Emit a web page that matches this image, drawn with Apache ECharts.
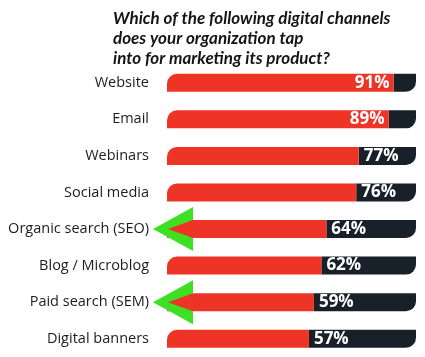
<!DOCTYPE html>
<html>
<head>
<meta charset="utf-8">
<script src="https://cdn.jsdelivr.net/npm/echarts@6/dist/echarts.min.js"></script>
<style>html,body{margin:0;padding:0;background:#fff;}#c{width:425px;height:357px;}</style>
</head>
<body>
<div id="c"></div>
<script>
var categories = ['Website','Email','Webinars','Social media','Organic search (SEO)','Blog / Microblog','Paid search (SEM)','Digital banners'];
var values = [91, 89, 77, 76, 64, 62, 59, 57];
var highlighted = ['Organic search (SEO)', 'Paid search (SEM)'];
var titleLines = ['Which of the following digital channels', 'does your organization tap', 'into for marketing its product?'];

var RED = '#ee3327', DARK = '#18212a', GREEN = '#3ee024';
var chart = echarts.init(document.getElementById('c'), null, {renderer: 'canvas'});

var redData = values.map(function (v) {
  var inside = v >= 85;
  return {
    value: v,
    label: {
      position: inside ? 'insideRight' : 'right',
      distance: inside ? 4 : 5
    }
  };
});
var darkData = values.map(function (v) { return 100 - v; });

var chevron = 'path://M0,22 L40,0 L40,13 L15,22 L40,31 L40,44 Z';

chart.setOption({
  animation: false,
  title: {
    text: titleLines.join('\n'),
    left: 108,
    top: 4,
    textStyle: {
      fontFamily: 'Lato',
      fontStyle: 'italic',
      fontWeight: 'bold',
      fontSize: 17,
      lineHeight: 20,
      color: '#151515'
    }
  },
  grid: {left: 167, right: 9, top: 64.5, height: 296, containLabel: false},
  xAxis: {type: 'value', min: 0, max: 100, show: false},
  yAxis: {
    type: 'category',
    data: categories,
    inverse: true,
    axisLine: {show: false},
    axisTick: {show: false},
    axisLabel: {
      margin: 18,
      fontFamily: 'Open Sans',
      fontSize: 14.5,
      color: '#1c1c1c'
    }
  },
  series: [
    {
      type: 'bar',
      stack: 'total',
      barWidth: 18,
      data: redData,
      itemStyle: {color: RED, borderRadius: [10, 0, 0, 0]},
      label: {
        show: true,
        formatter: '{c}%',
        color: '#fff',
        fontFamily: 'Open Sans',
        fontWeight: 'bold',
        fontSize: 17
      },
      markPoint: {
        symbol: chevron,
        symbolSize: [40, 44],
        symbolOffset: [6, 0],
        itemStyle: {color: GREEN},
        label: {show: false},
        data: highlighted.map(function (c) { return {coord: [0, c]}; })
      },
      z: 2
    },
    {
      type: 'bar',
      stack: 'total',
      barWidth: 18,
      data: darkData,
      itemStyle: {color: DARK, borderRadius: [0, 0, 10, 0]},
      z: 1
    }
  ]
});
</script>
</body>
</html>
